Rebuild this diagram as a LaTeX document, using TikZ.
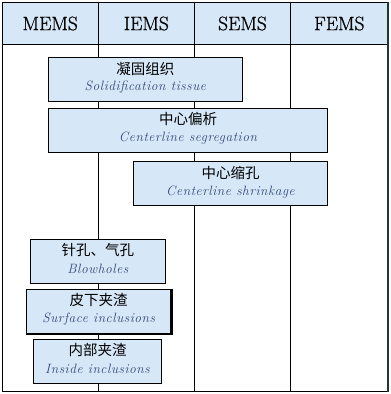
\documentclass[tikz,border=0pt]{standalone}
\usepackage{fontspec}
\newfontfamily\cjk{Noto Sans CJK SC}
\newfontfamily\enit[LetterSpace=4]{Latin Modern Roman}
\newfontfamily\headfont[FakeBold=0.8]{Latin Modern Roman}
\definecolor{boxblue}{HTML}{D6E7F7}
\definecolor{entext}{HTML}{34497A}
\definecolor{framegreen}{HTML}{1E3A2E}
\begin{document}
\begin{tikzpicture}[x=1pt,y=-1pt,
  box/.style={draw=black, line width=0.9pt, fill=boxblue, rectangle, inner sep=0pt, minimum height=44pt, align=center},
  head/.style={font=\headfont\fontsize{19.5}{21}\selectfont, inner sep=0pt},
  cn/.style={font=\cjk\fontsize{14.5}{16}\selectfont, inner sep=0pt},
  en/.style={font=\enit\itshape\fontsize{13.5}{15}\selectfont, text=entext, inner sep=0pt}]
\useasboundingbox (0,0) rectangle (391,394);
\fill[white] (0,0) rectangle (391,394);
% header
\fill[boxblue] (2,2) rectangle (388,44);
\draw[line width=0.9pt] (2,44) -- (388,44);
% column lines
\foreach \x in {98.3,194.3,290.7} \draw[line width=0.9pt] (\x,2) -- (\x,391);
% outer frame
\draw[line width=1pt] (2,2) rectangle (388,391);
\draw[line width=1.6pt, framegreen] (387.8,2) -- (387.8,391.5);
\node[head] (h1) at (50.2,23.5) {MEMS};
\node[head] (h2) at (146.3,23.5) {IEMS};
\node[head] (h3) at (242.5,23.5) {SEMS};
\node[head] (h4) at (339.3,23.5) {FEMS};
% boxes
\node[box, minimum width=194pt] (b1) at (145.3,79.5) {};
\node[box, minimum width=279.4pt] (b2) at (188,130.3) {};
\node[box, minimum width=194.4pt] (b3) at (230.5,183.7) {};
\node[box, minimum width=135.7pt] (b4) at (97.85,261.3) {};
\node[box, minimum width=144pt] (b5) at (98.7,311.3) {};
\draw[line width=1.8pt] ([xshift=0.6pt]b5.north east) -- ([xshift=0.6pt,yshift=-0.6pt]b5.south east) -- ([yshift=-0.6pt]b5.south west);
\node[box, minimum width=128.4pt] (b6) at (97.5,361.3) {};
% texts
\foreach \b/\c/\e in {b1/凝固组织/Solidification tissue, b2/中心偏析/Centerline segregation, b3/中心缩孔/Centerline shrinkage, b4/针孔、气孔/Blowholes, b5/皮下夹渣/Surface inclusions, b6/内部夹渣/Inside inclusions}{
  \node[cn] (\b c) at ([yshift=-11.5pt]\b.north) {\c};
  \node[en] (\b e) at ([yshift=-30.5pt]\b.north) {\e};
}
\end{tikzpicture}
\end{document}
